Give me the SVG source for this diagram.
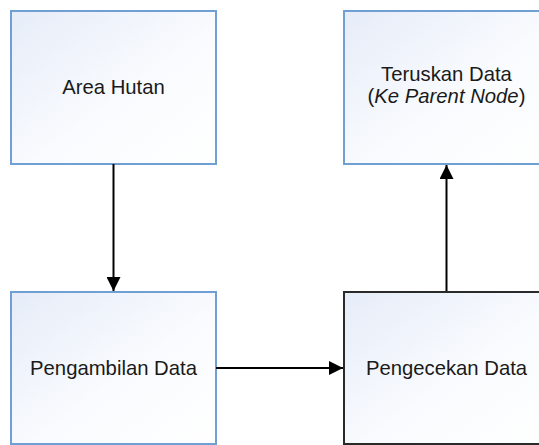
<svg xmlns="http://www.w3.org/2000/svg" width="539" height="445" viewBox="0 0 539 445">
  <style>
    .box { fill: url(#g); stroke: #6f9fd3; stroke-width: 2; }
    .dark { stroke: #2a2a2a; }
    .t { font-family: "Liberation Sans", Arial, sans-serif; font-size: 20.3px; fill: #1a1a1a; text-anchor: middle; }
    .c { stroke: #000; stroke-width: 2; fill: none; marker-end: url(#ah); }
  </style>
  <defs>
    <linearGradient id="g" x1="0" y1="0" x2="1" y2="1">
      <stop offset="0" stop-color="#e6ecf8"/>
      <stop offset="0.55" stop-color="#f9fbfe"/>
      <stop offset="1" stop-color="#ffffff"/>
    </linearGradient>
    <marker id="ah" viewBox="0 0 14 14" refX="14" refY="7" markerWidth="14" markerHeight="14" markerUnits="userSpaceOnUse" orient="auto">
      <path d="M0,0 L14,7 L0,14 Z" fill="#000"/>
    </marker>
  </defs>
  <rect width="539" height="445" fill="#fff"/>
  <g id="area-hutan">
    <rect class="box" x="11" y="11" width="205" height="153"/>
    <text class="t" x="113.5" y="94">Area Hutan</text>
  </g>
  <g id="teruskan-data">
    <rect class="box" x="344" y="11" width="205" height="153"/>
    <text class="t" x="446.5" y="81">Teruskan Data</text>
    <text class="t" x="446.5" y="103">(<tspan font-style="italic">Ke Parent Node</tspan>)</text>
  </g>
  <g id="pengambilan-data">
    <rect class="box" x="11" y="292" width="205" height="152"/>
    <text class="t" x="113.5" y="375">Pengambilan Data</text>
  </g>
  <g id="pengecekan-data">
    <rect class="box dark" x="344" y="292" width="205" height="152"/>
    <text class="t" x="446.5" y="375">Pengecekan Data</text>
  </g>
  <g id="connectors">
    <line class="c" x1="113.5" y1="164" x2="113.5" y2="291"/>
    <line class="c" x1="216" y1="368" x2="343" y2="368"/>
    <line class="c" x1="446.5" y1="291" x2="446.5" y2="165"/>
  </g>
</svg>
